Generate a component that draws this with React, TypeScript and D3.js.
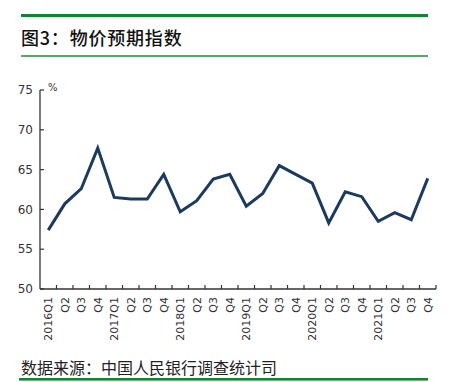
import React from "react";
import * as d3 from "d3";

const categories = [
  "2016Q1", "Q2", "Q3", "Q4",
  "2017Q1", "Q2", "Q3", "Q4",
  "2018Q1", "Q2", "Q3", "Q4",
  "2019Q1", "Q2", "Q3", "Q4",
  "2020Q1", "Q2", "Q3", "Q4",
  "2021Q1", "Q2", "Q3", "Q4",
];
const values = [
  57.4, 60.7, 62.6, 67.7,
  61.5, 61.3, 61.3, 64.4,
  59.7, 61.1, 63.8, 64.4,
  60.4, 62.0, 65.5, 64.4,
  63.3, 58.3, 62.2, 61.6,
  58.5, 59.6, 58.7, 63.9,
];
const yTicks = [50, 55, 60, 65, 70, 75];
const title = "图3：物价预期指数";
const source = "数据来源：中国人民银行调查统计司";
const unit = "%";

export default function App() {
  const W = 449, H = 382;
  const left = 40, right = 436, top = 90, bottom = 289;
  const x = d3.scaleBand<string>().domain(categories.map((c, i) => i + "")).range([left, right]);
  const y = d3.scaleLinear().domain([50, 75]).range([bottom, top]);
  const line = d3.line<number>()
    .x((_, i) => (x(i + "") as number) + x.bandwidth() / 2)
    .y((d) => y(d));
  const green = "#14842c";
  const axisColor = "#333";
  const font = "'DejaVu Sans', sans-serif";
  const cjk = "'Noto Sans CJK SC', sans-serif";
  return (
    <svg width={W} height={H} style={{ position: "absolute", left: 0, top: 0, background: "#fff" }}>
      <rect x={21} y={14} width={407} height={3} fill={green} />
      <text x={21} y={45} fontFamily={cjk} fontSize={18} fontWeight={500} fill="#111" letterSpacing={0.8}>{title}</text>
      <rect x={21} y={55.3} width={407} height={1.4} fill={green} />

      {yTicks.map((t) => (
        <g key={t}>
          <line x1={left} x2={left + 4} y1={y(t)} y2={y(t)} stroke={axisColor} strokeWidth={1.2} />
          <text x={33} y={y(t)} dy="0.35em" textAnchor="end" fontFamily={font} fontSize={12} fill="#333">{t}</text>
        </g>
      ))}
      <text x={48} y={y(75)} dy="0.1em" fontFamily={font} fontSize={10} fill="#333">{unit}</text>
      <line x1={left} x2={left} y1={top} y2={bottom} stroke={axisColor} strokeWidth={1.3} />
      <line x1={left} x2={right} y1={bottom} y2={bottom} stroke={axisColor} strokeWidth={1.3} />
      {categories.map((c, i) => {
        const xt = (x(i + "") as number) + x.bandwidth();
        const xc = (x(i + "") as number) + x.bandwidth() / 2;
        return (
          <g key={i}>
            <line x1={xt} x2={xt} y1={bottom} y2={bottom - 4} stroke={axisColor} strokeWidth={1.2} />
            <text
              transform={`translate(${xc},${bottom + 8}) rotate(-90)`}
              textAnchor="end"
              dy="0.35em"
              fontFamily={font}
              fontSize={11}
              fill="#333"
            >{c}</text>
          </g>
        );
      })}
      <path d={line(values) || ""} fill="none" stroke="#1b3a5e" strokeWidth={3} strokeLinejoin="miter" />

      <text x={21} y={374} fontFamily={cjk} fontSize={16} fill="#222">{source}</text>
      <rect x={19} y={378} width={409} height={2.6} fill={green} />
    </svg>
  );
}
